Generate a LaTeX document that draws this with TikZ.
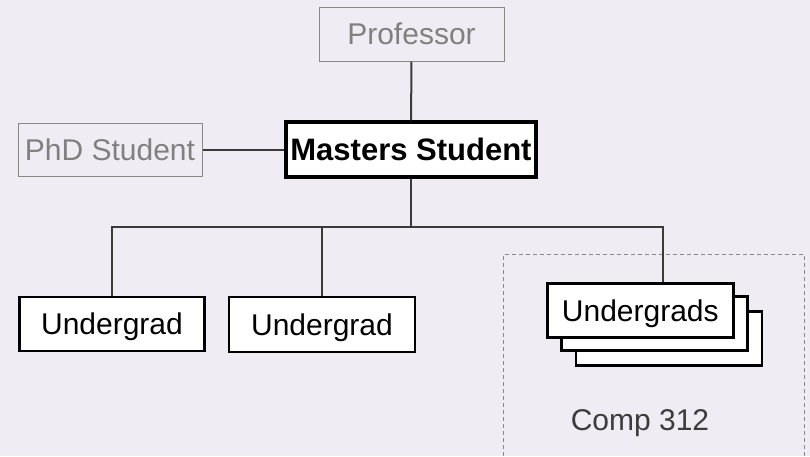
\documentclass[tikz,border=0pt]{standalone}
\usepackage{fontspec}
\setmainfont{Liberation Sans}
\definecolor{bgc}{RGB}{239,237,243}
\definecolor{linec}{RGB}{58,58,58}
\definecolor{greyc}{RGB}{136,136,136}
\definecolor{greyt}{RGB}{128,128,128}
\definecolor{compc}{RGB}{60,60,60}
\begin{document}
\begin{tikzpicture}[x=1pt,y=-1pt,
  every node/.style={font=\fontsize{30}{36}\selectfont, inner sep=0pt, text height=21.5pt, text depth=0pt},
  faded/.style={draw=greyc, line width=1pt, text=greyt, minimum height=54pt},
  boss/.style={draw=black, fill=white, line width=3.5pt, font=\fontsize{31}{36}\selectfont\bfseries, text height=22.2pt, minimum width=250pt, minimum height=55pt},
  ugbox/.style={draw=black, fill=white, line width=2.5pt, minimum width=185pt, minimum height=54pt},
  link/.style={draw=linec, line width=2pt}]
\fill[bgc] (0,0) rectangle (810,456);
\clip (0,0) rectangle (810,456);
% dashed course region
\draw[greyc, line width=1pt, dash pattern=on 4pt off 3pt] (503.5,470) -- (503.5,254) -- (804,254) -- (804,470);
\node[text=compc] (comp) at (640,420) {Comp 312};
% nodes
\node[faded, minimum width=185pt] (prof) at (411.5,34) {Professor};
\node[boss] (ms) at (411,149.5) {Masters Student};
\node[faded, minimum width=184pt, minimum height=53pt] (phd) at (110,149.5) {PhD Student};
\node[ugbox] (ug1) at (112,324) {Undergrad};
\node[ugbox, minimum width=186pt, minimum height=55pt] (ug2) at (322,324.5) {Undergrad};
\node[ugbox, minimum width=186pt] (ugs3) at (669,338.6) {\phantom{Undergrads}};
\node[ugbox, minimum width=186pt] (ugs2) at (654.5,323.5) {\phantom{Undergrads}};
\node[ugbox, minimum width=186pt] (ugs) at (640.3,310.3) {Undergrads};
% connectors
\coordinate (j) at (411,227);
\draw[link] (prof) -- (ms);
\draw[link] (phd) -- (ms);
\draw[link] (ms) -- (j);
\draw[link] (j) -| (ug1.north);
\draw[link] (j) -| (ug2.north);
\draw[link] (j) -| ([xshift=-71.3pt]ugs.north east);
\end{tikzpicture}
\end{document}
